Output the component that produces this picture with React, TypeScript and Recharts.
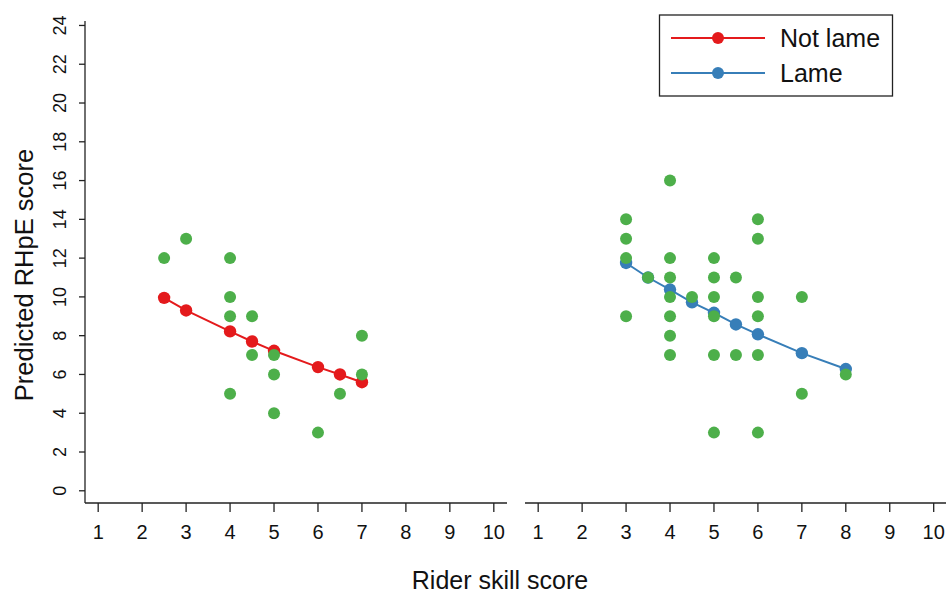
import React from "react";
import { ComposedChart, Scatter, XAxis, YAxis } from "recharts";

const FONT = "'Liberation Sans', Arial, Helvetica, sans-serif";
const RED = "#E41A1C";
const BLUE = "#377EB8";
const GREEN = "#4DAF4A";
const AXIS = "#222222";

const xTicks = [1, 2, 3, 4, 5, 6, 7, 8, 9, 10];
const yTicks = [0, 2, 4, 6, 8, 10, 12, 14, 16, 18, 20, 22, 24];

// Not lame panel
const notLameObserved = [
  { x: 2.5, y: 12 }, { x: 3, y: 13 }, { x: 4, y: 12 }, { x: 4, y: 10 }, { x: 4, y: 9 },
  { x: 4, y: 5 }, { x: 4.5, y: 9 }, { x: 4.5, y: 7 }, { x: 5, y: 7 }, { x: 5, y: 6 },
  { x: 5, y: 4 }, { x: 6, y: 3 }, { x: 6.5, y: 5 }, { x: 7, y: 8 }, { x: 7, y: 6 },
];
const notLamePredicted = [
  { x: 2.5, y: 9.95 }, { x: 3, y: 9.3 }, { x: 4, y: 8.22 }, { x: 4.5, y: 7.7 },
  { x: 5, y: 7.22 }, { x: 6, y: 6.38 }, { x: 6.5, y: 6.0 }, { x: 7, y: 5.6 },
];

// Lame panel
const lameObserved = [
  { x: 3, y: 14 }, { x: 3, y: 13 }, { x: 3, y: 12 }, { x: 3, y: 9 },
  { x: 3.5, y: 11 },
  { x: 4, y: 16 }, { x: 4, y: 12 }, { x: 4, y: 11 }, { x: 4, y: 10 }, { x: 4, y: 9 }, { x: 4, y: 8 }, { x: 4, y: 7 },
  { x: 4.5, y: 10 },
  { x: 5, y: 12 }, { x: 5, y: 11 }, { x: 5, y: 10 }, { x: 5, y: 9 }, { x: 5, y: 7 }, { x: 5, y: 3 },
  { x: 5.5, y: 11 }, { x: 5.5, y: 7 },
  { x: 6, y: 14 }, { x: 6, y: 13 }, { x: 6, y: 10 }, { x: 6, y: 9 }, { x: 6, y: 7 }, { x: 6, y: 3 },
  { x: 7, y: 10 }, { x: 7, y: 5 },
  { x: 8, y: 6 },
];
const lamePredicted = [
  { x: 3, y: 11.75 }, { x: 3.5, y: 11.0 }, { x: 4, y: 10.38 }, { x: 4.5, y: 9.72 },
  { x: 5, y: 9.18 }, { x: 5.5, y: 8.58 }, { x: 6, y: 8.07 }, { x: 7, y: 7.1 }, { x: 8, y: 6.28 },
];

const legendItems = [
  { label: "Not lame", color: RED },
  { label: "Lame", color: BLUE },
];

const X_DOMAIN_LEFT: [number, number] = [0.7, 10.3];
const X_DOMAIN_RIGHT: [number, number] = [0.7, 10.28];
const Y_DOMAIN: [number, number] = [-0.63, 24.23];

const dot = (color: string, r: number) => (props: any) => {
  const { cx, cy } = props;
  if (cx == null || cy == null) return <g />;
  return <circle cx={cx} cy={cy} r={r} fill={color} />;
};

const XTick = (props: any) => {
  const { x, y, payload } = props;
  return (
    <text x={x} y={y + 25} textAnchor="middle" fontSize={20} fontFamily={FONT} fill="#111">
      {payload.value}
    </text>
  );
};

const YTick = (props: any) => {
  const { y, payload } = props;
  const tx = 60;
  return (
    <text
      x={tx}
      y={y}
      transform={`rotate(-90, ${tx}, ${y})`}
      textAnchor="middle"
      dominantBaseline="central"
      fontSize={18}
      fontFamily={FONT}
      fill="#111"
    >
      {payload.value}
    </text>
  );
};

const Panel = ({
  observed,
  predicted,
  color,
  showY,
  width,
  marginLeft,
  domain,
}: any) => (
  <ComposedChart
    width={width}
    height={593}
    margin={{ top: 21, right: 0, left: marginLeft, bottom: 50 }}
  >
    <XAxis
      type="number"
      dataKey="x"
      domain={domain}
      ticks={xTicks}
      allowDataOverflow
      interval={0}
      height={40}
      tickSize={9}
      stroke={AXIS}
      strokeWidth={1.3}
      tick={<XTick />}
      tickLine={{ stroke: AXIS, strokeWidth: 1.3 }}
    />
    <YAxis
      type="number"
      dataKey="y"
      domain={Y_DOMAIN}
      ticks={yTicks}
      allowDataOverflow
      interval={0}
      hide={!showY}
      width={85}
      tickSize={6}
      stroke={AXIS}
      strokeWidth={1.3}
      tick={<YTick />}
      tickLine={{ stroke: AXIS, strokeWidth: 1.3 }}
    />
    <Scatter
      data={predicted}
      fill={color}
      line={{ stroke: color, strokeWidth: 2 }}
      lineType="joint"
      shape={dot(color, 6.2)}
      isAnimationActive={false}
    />
    <Scatter data={observed} fill={GREEN} shape={dot(GREEN, 6)} isAnimationActive={false} />
  </ComposedChart>
);

export default function App() {
  return (
    <div
      style={{
        position: "absolute",
        left: 0,
        top: 0,
        width: 946,
        height: 593,
        background: "#fff",
        fontFamily: FONT,
        overflow: "hidden",
      }}
    >
      <div style={{ position: "absolute", left: 0, top: 0 }}>
        <Panel
          observed={notLameObserved}
          predicted={notLamePredicted}
          color={RED}
          showY
          width={507}
          marginLeft={0}
          domain={X_DOMAIN_LEFT}
        />
      </div>
      <div style={{ position: "absolute", left: 510, top: 0 }}>
        <Panel
          observed={lameObserved}
          predicted={lamePredicted}
          color={BLUE}
          showY={false}
          width={436}
          marginLeft={15}
          domain={X_DOMAIN_RIGHT}
        />
      </div>
      <svg
        width={946}
        height={593}
        style={{ position: "absolute", left: 0, top: 0, pointerEvents: "none" }}
      >
        <text
          x={24}
          y={275}
          transform="rotate(-90, 24, 275)"
          textAnchor="middle"
          dominantBaseline="central"
          fontSize={25.5}
          fontFamily={FONT}
          fill="#111"
        >
          Predicted RHpE score
        </text>
        <text x={500} y={589} textAnchor="middle" fontSize={25} fontFamily={FONT} fill="#111">
          Rider skill score
        </text>
        <rect x={659.5} y={15} width={233} height={81} fill="#fff" stroke={AXIS} strokeWidth={1.3} />
        {legendItems.map((item, i) => {
          const cy = 38 + i * 35;
          return (
            <g key={item.label}>
              <line x1={671} x2={765} y1={cy} y2={cy} stroke={item.color} strokeWidth={2} />
              <circle cx={718} cy={cy} r={6} fill={item.color} />
              <text
                x={780}
                y={cy}
                dominantBaseline="central"
                fontSize={25}
                fontFamily={FONT}
                fill="#111"
              >
                {item.label}
              </text>
            </g>
          );
        })}
      </svg>
    </div>
  );
}
